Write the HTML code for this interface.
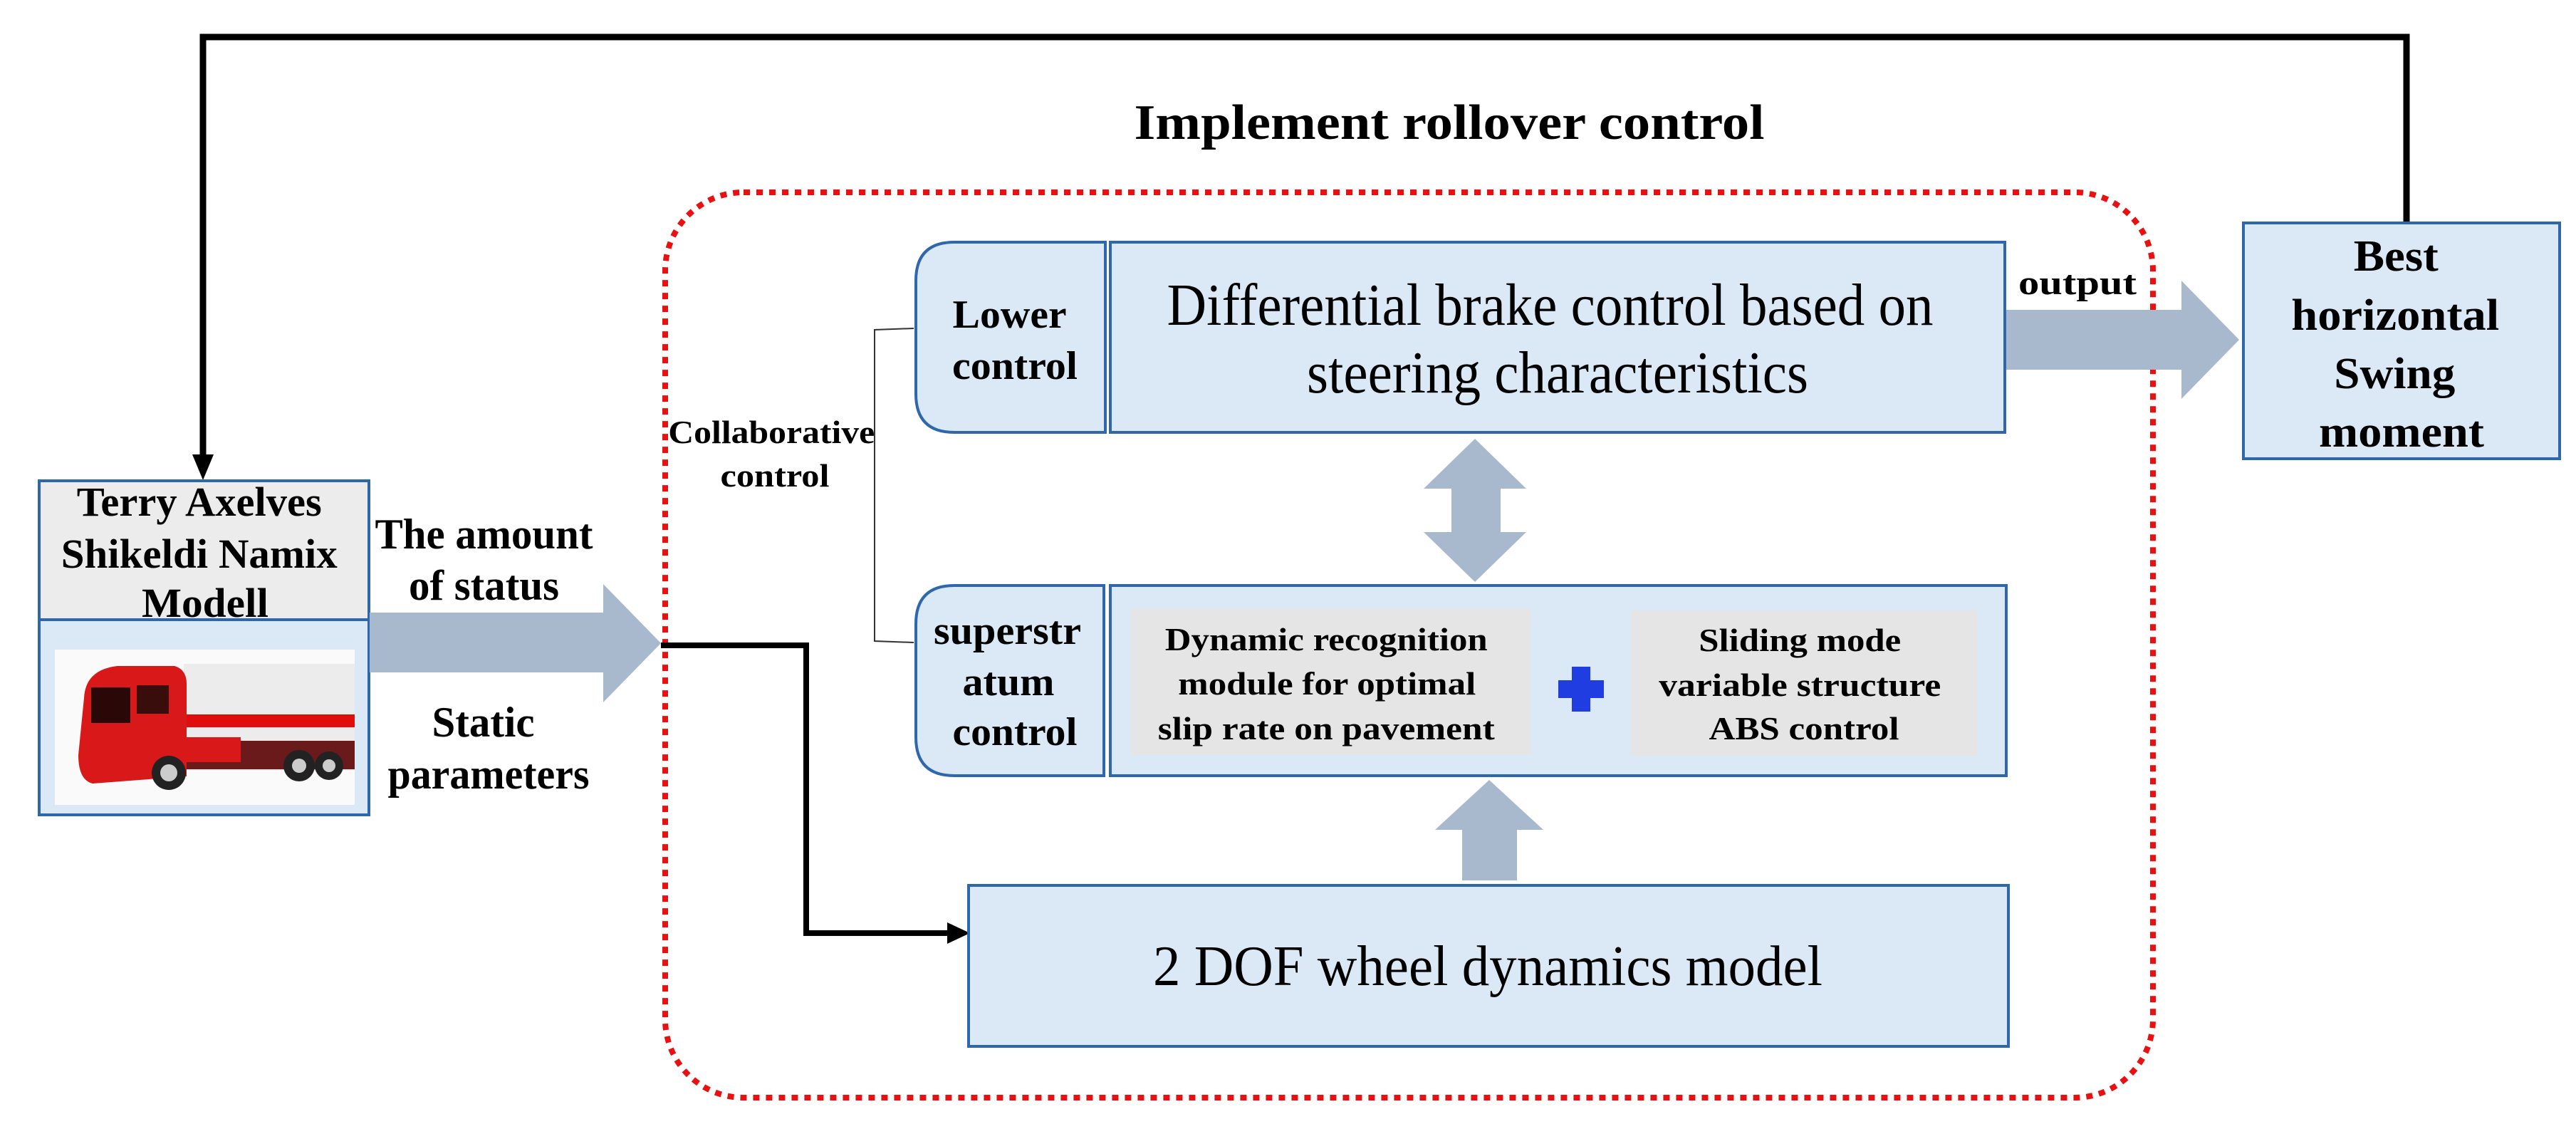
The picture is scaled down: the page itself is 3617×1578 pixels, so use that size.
<!DOCTYPE html>
<html><head><meta charset="utf-8"><style>html,body{margin:0;padding:0;background:#fff}svg{display:block}</style></head>
<body>
<svg width="3617" height="1578" viewBox="0 0 3617 1578" xmlns="http://www.w3.org/2000/svg" font-family="'Liberation Serif', serif">
<defs>
<marker id="ah" markerWidth="10" markerHeight="10" refX="9" refY="5" orient="auto" markerUnits="userSpaceOnUse"></marker>
</defs>
<!-- top feedback line -->
<polyline points="3379,313 3379,52 285,52 285,640" fill="none" stroke="#000" stroke-width="9"/>
<polygon points="270,638 300,638 285,674" fill="#000"/>

<!-- title -->
<text x="2035" y="195" font-size="70" font-weight="bold" text-anchor="middle" textLength="885" lengthAdjust="spacingAndGlyphs">Implement rollover control</text>

<!-- red dashed container -->
<rect x="934" y="270" width="2089" height="1271" rx="110" ry="110" fill="none" stroke="#e81010" stroke-width="8" stroke-dasharray="9 9"/>

<!-- left model box -->
<rect x="55" y="675" width="463" height="195" fill="#ececec" stroke="#2e67ab" stroke-width="4"/>
<rect x="55" y="870" width="463" height="274" fill="#dbe9f6" stroke="#2e67ab" stroke-width="4"/>
<text font-size="58" font-weight="bold" text-anchor="middle">
<tspan x="287" y="724" textLength="344" lengthAdjust="spacingAndGlyphs">Terry Axelves</tspan>
<tspan x="287" y="797" textLength="388" lengthAdjust="spacingAndGlyphs">Shikeldi Namix</tspan>
<tspan x="288" y="866" textLength="178" lengthAdjust="spacingAndGlyphs">Modell</tspan>
</text>
<!-- truck -->
<rect x="77" y="912" width="421" height="218" fill="#fafafa"/>
<rect x="258" y="932" width="240" height="150" fill="#ececec"/>
<rect x="258" y="1003" width="240" height="18" fill="#e00d0d"/>
<rect x="258" y="1040" width="240" height="40" fill="#6a1a1a"/>
<path d="M118,980 Q120,940 165,935 L245,935 Q262,940 262,960 L262,1090 L130,1100 Q110,1095 110,1060 Z" fill="#d9181a"/>
<rect x="258" y="1035" width="80" height="35" fill="#d9181a"/>
<rect x="128" y="965" width="55" height="50" fill="#2a0808"/>
<rect x="192" y="962" width="45" height="40" fill="#3a0d0d"/>
<circle cx="237" cy="1085" r="24" fill="#222"/><circle cx="237" cy="1085" r="12" fill="#ccc"/>
<circle cx="420" cy="1075" r="22" fill="#222"/><circle cx="420" cy="1075" r="10" fill="#ccc"/>
<circle cx="462" cy="1075" r="20" fill="#222"/><circle cx="462" cy="1075" r="9" fill="#ccc"/>

<!-- big input arrow -->
<polygon points="519,860 847,860 847,820 928,903 847,986 847,944 519,944" fill="#a9b9cd"/>
<text font-size="60" font-weight="bold" text-anchor="middle">
<tspan x="687" y="770" textLength="306" lengthAdjust="spacingAndGlyphs">The amount</tspan>
<tspan x="687" y="842" textLength="211" lengthAdjust="spacingAndGlyphs">of status</tspan>
<tspan x="686" y="1034" textLength="144" lengthAdjust="spacingAndGlyphs">Static</tspan>
<tspan x="686" y="1107" textLength="283" lengthAdjust="spacingAndGlyphs">parameters</tspan>
</text>

<!-- black connector to 2DOF -->
<polyline points="928,906 1132,906 1132,1310 1335,1310" fill="none" stroke="#000" stroke-width="8"/>
<polygon points="1330,1295 1362,1310 1330,1325" fill="#000"/>

<!-- bracket -->
<polyline points="1283,461 1228,463 1228,900 1283,902" fill="none" stroke="#333" stroke-width="2"/>
<text font-size="46" font-weight="bold" text-anchor="middle">
<tspan x="1089" y="622" textLength="290" lengthAdjust="spacingAndGlyphs">Collaborative</tspan>
<tspan x="1088" y="683" textLength="153" lengthAdjust="spacingAndGlyphs">control</tspan>
</text>

<!-- Lower control -->
<path d="M1340,340 L1552,340 L1552,607 L1340,607 Q1286,607 1286,553 L1286,394 Q1286,340 1340,340 Z" fill="#dbe9f6" stroke="#2e67ab" stroke-width="4"/>
<text font-size="56" font-weight="bold" text-anchor="middle">
<tspan x="1424" y="460" textLength="159" lengthAdjust="spacingAndGlyphs">Lower</tspan>
<tspan x="1425" y="532" textLength="176" lengthAdjust="spacingAndGlyphs">control</tspan>
</text>
<rect x="1559" y="340" width="1256" height="267" fill="#dbe9f6" stroke="#2e67ab" stroke-width="4"/>
<text font-size="84" text-anchor="middle">
<tspan x="2187" y="456" textLength="1076" lengthAdjust="spacingAndGlyphs">Differential brake control based on</tspan>
<tspan x="2187" y="551" textLength="704" lengthAdjust="spacingAndGlyphs">steering characteristics</tspan>
</text>

<!-- double arrow -->
<polygon points="2071,616 2143,686 2107,686 2107,747 2143,747 2071,817 1999,747 2038,747 2038,686 1999,686" fill="#a9b9cd"/>

<!-- superstratum -->
<path d="M1340,822 L1550,822 L1550,1089 L1340,1089 Q1286,1089 1286,1035 L1286,876 Q1286,822 1340,822 Z" fill="#dbe9f6" stroke="#2e67ab" stroke-width="4"/>
<text font-size="56" font-weight="bold" text-anchor="middle">
<tspan x="1421" y="904" textLength="206" lengthAdjust="spacingAndGlyphs">superstr</tspan>
<tspan x="1423" y="976" textLength="129" lengthAdjust="spacingAndGlyphs">atum</tspan>
<tspan x="1425" y="1046" textLength="175" lengthAdjust="spacingAndGlyphs">control</tspan>
</text>
<rect x="1559" y="822" width="1258" height="267" fill="#dbe9f6" stroke="#2e67ab" stroke-width="4"/>
<rect x="1588" y="855" width="562" height="205" fill="#e5e5e5"/>
<rect x="2290" y="857" width="486" height="204" fill="#e5e5e5"/>
<text font-size="46" font-weight="bold" text-anchor="middle">
<tspan x="1868" y="913" textLength="453" lengthAdjust="spacingAndGlyphs">Dynamic recognition</tspan>
<tspan x="1869" y="975" textLength="418" lengthAdjust="spacingAndGlyphs">module for optimal</tspan>
<tspan x="1868" y="1038" textLength="473" lengthAdjust="spacingAndGlyphs">slip rate on pavement</tspan>
<tspan x="2533" y="914" textLength="284" lengthAdjust="spacingAndGlyphs">Sliding mode</tspan>
<tspan x="2533" y="977" textLength="396" lengthAdjust="spacingAndGlyphs">variable structure</tspan>
<tspan x="2533" y="1038" textLength="267" lengthAdjust="spacingAndGlyphs">ABS control</tspan>
</text>
<!-- plus -->
<path d="M2207,936 L2233,936 L2233,955 L2252,955 L2252,980 L2233,980 L2233,999 L2207,999 L2207,980 L2188,980 L2188,955 L2207,955 Z" fill="#1f3de0"/>

<!-- up arrow -->
<polygon points="2091,1095 2167,1165 2130,1165 2130,1236 2053,1236 2053,1165 2015,1165" fill="#a9b9cd"/>

<!-- 2 DOF -->
<rect x="1360" y="1243" width="1460" height="226" fill="#dbe9f6" stroke="#2e67ab" stroke-width="4"/>
<text x="2089" y="1383" font-size="80" text-anchor="middle" textLength="940" lengthAdjust="spacingAndGlyphs">2 DOF wheel dynamics model</text>

<!-- output arrow -->
<polygon points="2817,435 3063,435 3063,394 3144,477 3063,560 3063,519 2817,519" fill="#a9b9cd"/>
<text x="2917" y="413" font-size="48" font-weight="bold" text-anchor="middle" textLength="166" lengthAdjust="spacingAndGlyphs">output</text>

<!-- Best box -->
<rect x="3150" y="313" width="444" height="331" fill="#dbe9f6" stroke="#2e67ab" stroke-width="4"/>
<text font-size="62" font-weight="bold" text-anchor="middle">
<tspan x="3372" y="380" textLength="119" lengthAdjust="spacingAndGlyphs">Best</tspan>
<tspan x="3371" y="463" textLength="292" lengthAdjust="spacingAndGlyphs">horizontal</tspan>
<tspan x="3370" y="545" textLength="170" lengthAdjust="spacingAndGlyphs">Swing</tspan>
<tspan x="3372" y="627" textLength="232" lengthAdjust="spacingAndGlyphs">moment</tspan>
</text>
</svg>
</body></html>
